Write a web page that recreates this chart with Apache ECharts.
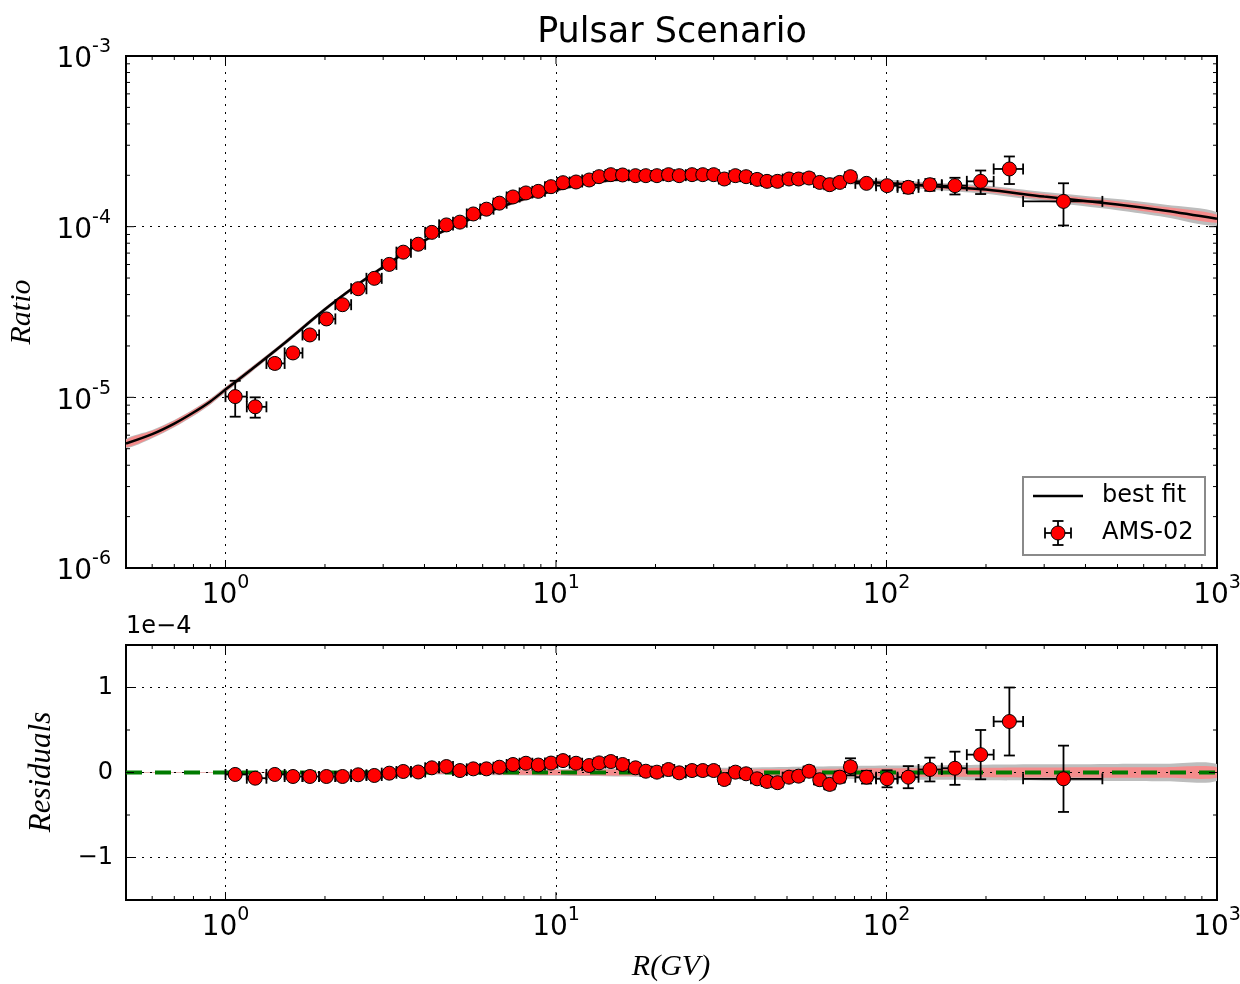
<!DOCTYPE html>
<html><head><meta charset="utf-8">
<script src="https://cdn.jsdelivr.net/npm/echarts@6/dist/echarts.min.js"></script>
<style>html,body{margin:0;padding:0;background:#fff}#c{width:1240px;height:984px}</style>
</head><body><div id="c"></div>
<script>
// ---------------- data ----------------
const R = [1.07, 1.23, 1.41, 1.60, 1.80, 2.02, 2.26, 2.52, 2.82, 3.13, 3.45, 3.83, 4.21, 4.66, 5.12, 5.62, 6.16, 6.74, 7.41, 8.11,
  8.84, 9.66, 10.5, 11.5, 12.6, 13.5, 14.65, 15.9, 17.4, 18.7, 20.2, 21.9, 23.6, 25.8, 27.8, 30.0, 32.3, 34.9, 37.6, 40.6,
  43.5, 46.8, 50.7, 54.2, 58.3, 62.8, 67.3, 72.2, 77.8, 87.0, 100.4, 116.4, 135.3, 161.1, 192.7, 235.4, 343.2];
const binEdges = [1.00, 1.16, 1.33, 1.51, 1.71, 1.92, 2.15, 2.40, 2.67, 2.97, 3.29, 3.64, 4.02, 4.43, 4.88, 5.37, 5.90, 6.47, 7.09, 7.76,
  8.48, 9.26, 10.1, 11.0, 12.0, 13.0, 14.1, 15.3, 16.6, 18.0, 19.5, 21.1, 22.8, 24.7, 26.7, 28.8, 31.1, 33.5, 36.1, 38.9,
  41.9, 45.1, 48.5, 52.2, 56.1, 60.3, 64.8, 69.7, 74.9, 80.5, 93.0, 108, 125, 147, 175, 211, 259, 450];
const ratio = [1.01e-5, 8.8e-6, 1.58e-5, 1.82e-5, 2.32e-5, 2.88e-5, 3.49e-5, 4.33e-5, 4.98e-5, 6.01e-5,
  7.09e-5, 7.89e-5, 9.26e-5, 1.024e-4, 1.063e-4, 1.187e-4, 1.266e-4, 1.373e-4, 1.493e-4, 1.576e-4,
  1.61e-4, 1.715e-4, 1.81e-4, 1.827e-4, 1.877e-4, 1.963e-4, 2.017e-4, 2.009e-4, 1.99e-4, 1.99e-4,
  1.99e-4, 2.017e-4, 1.99e-4, 2.017e-4, 2.017e-4, 2.017e-4, 1.902e-4, 1.99e-4, 1.963e-4, 1.892e-4,
  1.843e-4, 1.843e-4, 1.902e-4, 1.902e-4, 1.928e-4, 1.817e-4, 1.762e-4, 1.817e-4, 1.963e-4, 1.794e-4,
  1.739e-4, 1.70e-4, 1.762e-4, 1.739e-4, 1.843e-4, 2.178e-4, 1.406e-4];
// errors in units of 1e-4
const err = [0.024, 0.012, 0.010, 0.010, 0.011, 0.012, 0.013, 0.015, 0.016, 0.018,
  0.020, 0.022, 0.025, 0.027, 0.028, 0.030, 0.032, 0.034, 0.036, 0.038,
  0.038, 0.040, 0.042, 0.042, 0.043, 0.045, 0.046, 0.046, 0.046, 0.046,
  0.046, 0.047, 0.047, 0.048, 0.048, 0.048, 0.048, 0.050, 0.050, 0.050,
  0.050, 0.050, 0.052, 0.055, 0.055, 0.058, 0.060, 0.065, 0.100, 0.075,
  0.100, 0.130, 0.140, 0.195, 0.290, 0.400, 0.390];
// residuals in units of 1e-4
const resid = [-0.023, -0.067, -0.023, -0.047, -0.047, -0.047, -0.047, -0.027, -0.035, -0.008,
  0.012, 0.006, 0.055, 0.070, 0.023, 0.043, 0.043, 0.062, 0.094, 0.109,
  0.088, 0.111, 0.140, 0.109, 0.082, 0.113, 0.129, 0.094, 0.055, 0.015,
  0.004, 0.035, -0.004, 0.023, 0.023, 0.023, -0.082, 0.004, -0.015, -0.074,
  -0.105, -0.120, -0.055, -0.043, 0.015, -0.085, -0.140, -0.055, 0.067, -0.055,
  -0.074, -0.055, 0.035, 0.050, 0.210, 0.600, -0.074];
// best-fit curve
const fitR = [0.5, 0.6, 0.7, 0.8, 0.9, 1.0, 1.2, 1.5, 2.0, 2.5, 3.0, 4.0, 5.0, 6.0, 7.0, 8.0, 10, 12, 15, 20,
  30, 40, 50, 70, 100, 150, 200, 300, 500, 700, 1000];
const fitV = [5.36e-6, 6.09e-6, 7.02e-6, 8.15e-6, 9.46e-6, 1.11e-5, 1.46e-5, 2.06e-5, 3.28e-5, 4.55e-5,
  5.80e-5, 8.30e-5, 1.02e-4, 1.19e-4, 1.33e-4, 1.45e-4, 1.64e-4, 1.77e-4, 1.88e-4, 1.93e-4,
  1.935e-4, 1.92e-4, 1.90e-4, 1.86e-4, 1.80e-4, 1.71e-4, 1.65e-4, 1.50e-4, 1.35e-4, 1.24e-4, 1.114e-4];
// fractional half-widths of the uncertainty bands
const bandRed = [0.050, 0.045, 0.040, 0.036, 0.033, 0.030, 0.027, 0.024, 0.021, 0.020,
  0.019, 0.018, 0.018, 0.018, 0.018, 0.018, 0.018, 0.018, 0.018, 0.018,
  0.019, 0.020, 0.021, 0.024, 0.027, 0.030, 0.034, 0.039, 0.045, 0.050, 0.055];
const bandGrey = [0.062, 0.056, 0.050, 0.046, 0.042, 0.039, 0.035, 0.031, 0.028, 0.026,
  0.025, 0.024, 0.024, 0.024, 0.024, 0.024, 0.024, 0.024, 0.025, 0.026,
  0.028, 0.031, 0.034, 0.039, 0.045, 0.050, 0.056, 0.064, 0.075, 0.083, 0.090];
// ticks
const xMajor = [1, 10, 100];
const xMinor = [0.6, 0.7, 0.8, 0.9, 2, 3, 4, 5, 6, 7, 8, 9, 20, 30, 40, 50, 60, 70, 80, 90, 200, 300, 400, 500, 600, 700, 800, 900];
const yTopMajor = [1e-5, 1e-4];
const yTopMinor = [2e-6, 3e-6, 4e-6, 5e-6, 6e-6, 7e-6, 8e-6, 9e-6, 2e-5, 3e-5, 4e-5, 5e-5, 6e-5, 7e-5, 8e-5, 9e-5,
  2e-4, 3e-4, 4e-4, 5e-4, 6e-4, 7e-4, 8e-4, 9e-4];
const yBotMajor = [-1, 0, 1];
const yBotMinor = [-0.5, 0.5];
const SCALE = 1e-4;

// ---------------- chart ----------------
const chart = echarts.init(document.getElementById('c'), null, {renderer: 'canvas'});
const FONT = 'DejaVu Sans';
const BLACK = '#000';

function powLabel(v) {
  const l = Math.log10(v), e = Math.round(l);
  if (Math.abs(l - e) > 1e-6) return '';
  return '{b|10}{s|' + e + '}';
}
const powRich = {
  b: {fontSize: 28, fontFamily: FONT, color: BLACK, lineHeight: 36, verticalAlign: 'bottom'},
  s: {fontSize: 19, fontFamily: FONT, color: BLACK, lineHeight: 14, verticalAlign: 'top'}
};
const dotted = {color: BLACK, width: 1, type: [2, 6]};

function xTicks(gi, vals, len, yRef) {
  return {type: 'custom', xAxisIndex: gi, yAxisIndex: gi, silent: true, z: 8, clip: false,
    data: vals.map(v => [v, yRef]),
    renderItem(params, api) {
      const cs = params.coordSys;
      const x = api.coord([api.value(0), api.value(1)])[0];
      const st = {stroke: BLACK, lineWidth: 1};
      return {type: 'group', children: [
        {type: 'line', shape: {x1: x, y1: cs.y + cs.height, x2: x, y2: cs.y + cs.height - len}, style: st},
        {type: 'line', shape: {x1: x, y1: cs.y, x2: x, y2: cs.y + len}, style: st}
      ]};
    }};
}
function yTicks(gi, vals, len, xRef) {
  return {type: 'custom', xAxisIndex: gi, yAxisIndex: gi, silent: true, z: 8, clip: false,
    data: vals.map(v => [xRef, v]),
    renderItem(params, api) {
      const cs = params.coordSys;
      const y = api.coord([api.value(0), api.value(1)])[1];
      const st = {stroke: BLACK, lineWidth: 1};
      return {type: 'group', children: [
        {type: 'line', shape: {x1: cs.x, y1: y, x2: cs.x + len, y2: y}, style: st},
        {type: 'line', shape: {x1: cs.x + cs.width, y1: y, x2: cs.x + cs.width - len, y2: y}, style: st}
      ]};
    }};
}
function errorBarItem(params, api) {
  const p = api.coord([api.value(0), api.value(1)]);
  const xl = api.coord([api.value(2), api.value(1)])[0];
  const xh = api.coord([api.value(3), api.value(1)])[0];
  const yl = api.coord([api.value(0), api.value(4)])[1];
  const yh = api.coord([api.value(0), api.value(5)])[1];
  const c = 5.5, st = {stroke: BLACK, lineWidth: 1.8};
  return {type: 'group', children: [
    {type: 'line', shape: {x1: xl, y1: p[1], x2: xh, y2: p[1]}, style: st},
    {type: 'line', shape: {x1: xl, y1: p[1] - c, x2: xl, y2: p[1] + c}, style: st},
    {type: 'line', shape: {x1: xh, y1: p[1] - c, x2: xh, y2: p[1] + c}, style: st},
    {type: 'line', shape: {x1: p[0], y1: yl, x2: p[0], y2: yh}, style: st},
    {type: 'line', shape: {x1: p[0] - c, y1: yl, x2: p[0] + c, y2: yl}, style: st},
    {type: 'line', shape: {x1: p[0] - c, y1: yh, x2: p[0] + c, y2: yh}, style: st}
  ]};
}
function bandSeries(gi, frac, color, z, resid) {
  return {type: 'custom', xAxisIndex: gi, yAxisIndex: gi, silent: true, z: z, clip: true,
    data: [[fitR[0], resid ? 0 : fitV[0]]],
    renderItem(params, api) {
      const up = [], lo = [];
      for (let i = 0; i < fitR.length; i++) {
        const h = resid ? fitV[i] * frac[i] / SCALE : 0;
        const yu = resid ? h : fitV[i] * (1 + frac[i]);
        const yd = resid ? -h : fitV[i] * (1 - frac[i]);
        up.push(api.coord([fitR[i], yu]));
        lo.push(api.coord([fitR[i], yd]));
      }
      return {type: 'polygon', shape: {points: up.concat(lo.reverse()), smooth: 0.3}, style: {fill: color}};
    }};
}

const topErr = R.map((r, i) => [r, ratio[i], binEdges[i], binEdges[i + 1], ratio[i] - err[i] * SCALE, ratio[i] + err[i] * SCALE]);
const botErr = R.map((r, i) => [r, resid[i], binEdges[i], binEdges[i + 1], resid[i] - err[i], resid[i] + err[i]]);

const option = {
  animation: false,
  backgroundColor: '#fff',
  grid: [
    {left: 126, top: 56, width: 1091, height: 512, show: true, borderColor: BLACK, borderWidth: 2,
      backgroundColor: 'transparent', containLabel: false, outerBoundsMode: 'none'},
    {left: 126, top: 645, width: 1091, height: 255, show: true, borderColor: BLACK, borderWidth: 2,
      backgroundColor: 'transparent', containLabel: false, outerBoundsMode: 'none'}
  ],
  xAxis: [0, 1].map(gi => ({
    type: 'log', logBase: 10, min: 0.5, max: 1000, gridIndex: gi,
    axisLine: {show: false}, axisTick: {show: false},
    splitLine: {show: true, lineStyle: dotted},
    axisLabel: {margin: 6, formatter: powLabel, rich: powRich, showMinLabel: false, hideOverlap: false}
  })),
  yAxis: [
    {type: 'log', logBase: 10, min: 1e-6, max: 1e-3, gridIndex: 0,
      axisLine: {show: false}, axisTick: {show: false},
      splitLine: {show: true, lineStyle: dotted},
      axisLabel: {margin: 15, formatter: powLabel, rich: powRich}},
    {type: 'value', min: -1.5, max: 1.5, interval: 0.5, gridIndex: 1,
      axisLine: {show: false}, axisTick: {show: false}, splitLine: {show: false},
      axisLabel: {margin: 13, fontSize: 24, fontFamily: FONT, color: BLACK,
        formatter: v => (Math.abs(v - Math.round(v)) < 1e-9 ? (v < 0 ? '\u2212' + Math.abs(Math.round(v)) : String(Math.round(v))) : '')}}
  ],
  series: [
    // top panel
    bandSeries(0, bandGrey, '#bdbdbd', 1, false),
    bandSeries(0, bandRed, '#f48c8c', 2, false),
    {type: 'line', xAxisIndex: 0, yAxisIndex: 0, z: 3, silent: true, showSymbol: false, smooth: 0.3,
      data: fitR.map((r, i) => [r, fitV[i]]), lineStyle: {color: BLACK, width: 2.5}},
    {type: 'custom', xAxisIndex: 0, yAxisIndex: 0, z: 4, silent: true, clip: false,
      encode: {x: 0, y: 1}, data: topErr, renderItem: errorBarItem},
    {type: 'scatter', xAxisIndex: 0, yAxisIndex: 0, z: 5, silent: true, symbol: 'circle', symbolSize: 14,
      data: R.map((r, i) => [r, ratio[i]]), itemStyle: {color: '#ff0000', borderColor: BLACK, borderWidth: 1, opacity: 1}},
    xTicks(0, xMajor, 8, 1e-4), xTicks(0, xMinor, 4, 1e-4),
    yTicks(0, yTopMajor, 8, 1), yTicks(0, yTopMinor, 4, 1),
    // bottom panel
    bandSeries(1, bandGrey, '#bdbdbd', 1, true),
    bandSeries(1, bandRed, '#f48c8c', 2, true),
    {type: 'line', xAxisIndex: 1, yAxisIndex: 1, z: 3, silent: true, showSymbol: false,
      data: [[0.5, 0], [1000, 0]], lineStyle: {color: '#007a00', width: 4, type: [16, 13]},
      markLine: {silent: true, symbol: 'none', label: {show: false}, z: 3,
        lineStyle: {color: BLACK, width: 1, type: [2, 6]},
        data: yBotMajor.map(v => ({yAxis: v}))}},
    {type: 'custom', xAxisIndex: 1, yAxisIndex: 1, z: 4, silent: true, clip: false,
      encode: {x: 0, y: 1}, data: botErr, renderItem: errorBarItem},
    {type: 'scatter', xAxisIndex: 1, yAxisIndex: 1, z: 5, silent: true, symbol: 'circle', symbolSize: 14,
      data: R.map((r, i) => [r, resid[i]]), itemStyle: {color: '#ff0000', borderColor: BLACK, borderWidth: 1, opacity: 1}},
    xTicks(1, xMajor, 8, 0), xTicks(1, xMinor, 4, 0),
    yTicks(1, yBotMajor, 8, 1), yTicks(1, yBotMinor, 4, 1)
  ],
  graphic: [
    {type: 'text', x: 672, y: 33, z: 10, style: {text: 'Pulsar Scenario', font: '35px "DejaVu Sans"', fill: BLACK, align: 'center', verticalAlign: 'middle'}},
    {type: 'text', x: 22, y: 312, rotation: Math.PI / 2, z: 10, style: {text: 'Ratio', font: 'italic 30px "Liberation Serif"', fill: BLACK, align: 'center', verticalAlign: 'middle'}},
    {type: 'text', x: 42, y: 772, rotation: Math.PI / 2, z: 10, style: {text: 'Residuals', font: 'italic 31px "Liberation Serif"', fill: BLACK, align: 'center', verticalAlign: 'middle'}},
    {type: 'text', x: 671, y: 967, z: 10, style: {text: 'R(GV)', font: 'italic 30px "Liberation Serif"', fill: BLACK, align: 'center', verticalAlign: 'middle'}},
    {type: 'text', x: 126, y: 627, z: 10, style: {text: '1e\u22124', font: '24px "DejaVu Sans"', fill: BLACK, align: 'left', verticalAlign: 'middle'}},
    // legend
    {type: 'rect', z: 20, shape: {x: 1023, y: 477, width: 182, height: 78}, style: {fill: '#fff', stroke: '#8a8a8a', lineWidth: 2}},
    {type: 'line', z: 21, shape: {x1: 1033, y1: 496, x2: 1083, y2: 496}, style: {stroke: BLACK, lineWidth: 2.5}},
    {type: 'text', x: 1102, y: 496, z: 21, style: {text: 'best fit', font: '24px "DejaVu Sans"', fill: BLACK, align: 'left', verticalAlign: 'middle'}},
    {type: 'group', z: 21, x: 1058, y: 533, children: [
      {type: 'line', z: 21, shape: {x1: -13, y1: 0, x2: 13, y2: 0}, style: {stroke: BLACK, lineWidth: 1.8}},
      {type: 'line', z: 21, shape: {x1: -13, y1: -5.5, x2: -13, y2: 5.5}, style: {stroke: BLACK, lineWidth: 1.8}},
      {type: 'line', z: 21, shape: {x1: 13, y1: -5.5, x2: 13, y2: 5.5}, style: {stroke: BLACK, lineWidth: 1.8}},
      {type: 'line', z: 21, shape: {x1: 0, y1: -12, x2: 0, y2: 12}, style: {stroke: BLACK, lineWidth: 1.8}},
      {type: 'line', z: 21, shape: {x1: -5.5, y1: -12, x2: 5.5, y2: -12}, style: {stroke: BLACK, lineWidth: 1.8}},
      {type: 'line', z: 21, shape: {x1: -5.5, y1: 12, x2: 5.5, y2: 12}, style: {stroke: BLACK, lineWidth: 1.8}},
      {type: 'circle', z: 22, shape: {cx: 0, cy: 0, r: 7}, style: {fill: '#ff0000', stroke: BLACK, lineWidth: 1}}
    ]},
    {type: 'text', x: 1102, y: 533, z: 21, style: {text: 'AMS-02', font: '24px "DejaVu Sans"', fill: BLACK, align: 'left', verticalAlign: 'middle'}}
  ]
};
chart.setOption(option);
</script>
</body></html>
